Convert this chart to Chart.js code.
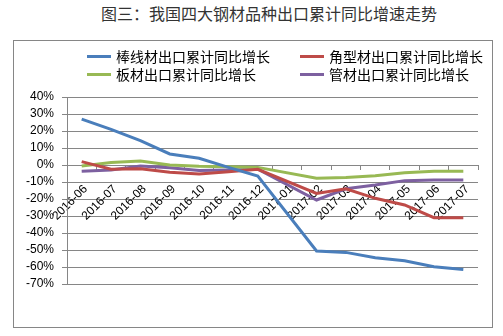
<!DOCTYPE html>
<html>
<head>
<meta charset="utf-8">
<script src="https://cdn.jsdelivr.net/npm/chart.js@4/dist/chart.umd.min.js"></script>
<style>
  html, body { margin: 0; padding: 0; background: #fff; }
  body { width: 503px; height: 336px; position: relative; overflow: hidden; font-family: "Noto Sans CJK SC", sans-serif; }
  #title { position: absolute; left: 101px; top: 2px; white-space: nowrap; font-size: 16px; color: #333; line-height: 22px; }
  #frame { position: absolute; left: 13px; top: 40px; width: 480px; height: 288px; border: 1px solid #868686; box-sizing: border-box; }
  #wrap { position: absolute; left: 0; top: 0; width: 503px; height: 336px; }
  .lg { position: absolute; font-size: 14px; color: #000; line-height: 18px; white-space: nowrap; }
  .lg i { position: absolute; width: 24px; height: 3px; top: 8px; }
</style>
</head>
<body>
<div id="title">图三：我国四大钢材品种出口累计同比增速走势</div>
<div id="frame"></div>
<div id="wrap"><canvas id="chart"></canvas></div>
<div id="legend"></div>
<script>
// months on the x axis, 2017-01 has no figure (Jan-Feb reported together)
const months = ['2016-06', '2016-07', '2016-08', '2016-09', '2016-10', '2016-11', '2016-12',
  '2017-01', '2017-02', '2017-03', '2017-04', '2017-05', '2017-06', '2017-07'];

// cumulative yoy export growth, %
const barWire = [27, 21, 14.3, 6.5, 4, -1.4, -6.5, null, -50.6, -51.4, -54.5, -56.3, -59.8, -61.5];
const sections = [2, -2.5, -2.2, -4.3, -5.3, -3.9, -2.5, null, -16.7, -14, -19.6, -23.5, -31, -31];
const plates = [-0.6, 1.4, 2.3, 0, -0.8, -1, -1.4, null, -7.8, -7.3, -6.3, -4.5, -3.7, -3.7];
const pipes = [-3.7, -2.9, -0.6, -1.6, -3.3, -2.9, -2.5, null, -20.6, -14, -11.8, -9.2, -8.8, -8.8];

const seriesNames = ['棒线材出口累计同比增长', '角型材出口累计同比增长', '板材出口累计同比增长', '管材出口累计同比增长'];
const colors = ['#4a7ebb', '#be4b48', '#98b954', '#7d60a0'];

const yMin = -70, yMax = 40, yStep = 10;

const mk = (i, data) => ({
  label: seriesNames[i], data, borderColor: colors[i], backgroundColor: colors[i],
  borderWidth: 3, pointRadius: 0, tension: 0, spanGaps: true,
});

const gridGray = '#868686';

new Chart(document.getElementById('chart').getContext('2d'), {
  type: 'line',
  data: {
    labels: months,
    datasets: [mk(0, barWire), mk(1, sections), mk(2, plates), mk(3, pipes)],
  },
  options: {
    responsive: true,
    maintainAspectRatio: false,
    animation: false,
    layout: { padding: { left: 0, top: 97, right: 25, bottom: 52 } },
    plugins: { legend: { display: false }, tooltip: { enabled: false } },
    scales: {
      x: {
        position: { y: 0 },
        offset: true,
        afterFit: (s) => { s.height = 0; },
        grid: { offset: true, drawOnChartArea: false, drawTicks: true, tickLength: 5, color: gridGray },
        border: { display: false },
        ticks: { minRotation: 45, maxRotation: 45, autoSkip: false, color: '#000', padding: 12, labelOffset: 4,
          font: { family: 'Liberation Sans', size: 12 } },
      },
      y: {
        min: yMin, max: yMax,
        afterFit: (s) => { s.width = 67; },
        grid: { color: gridGray, tickLength: 5 },
        border: { color: gridGray },
        ticks: { stepSize: yStep, autoSkip: false, color: '#000', padding: 8,
          font: { family: 'Liberation Sans', size: 12 },
          callback: (v) => v + '%' },
      },
    },
  },
});

// legend laid out in two columns like the original
const legendPos = [[87, 47], [300, 47], [87, 65], [300, 65]];
const legend = document.getElementById('legend');
seriesNames.forEach((name, i) => {
  const el = document.createElement('div');
  el.className = 'lg';
  el.style.left = legendPos[i][0] + 'px';
  el.style.top = legendPos[i][1] + 'px';
  el.style.paddingLeft = '29px';
  el.innerHTML = '<i style="left:0;background:' + colors[i] + '"></i>' + name;
  legend.appendChild(el);
});
</script>
</body>
</html>
